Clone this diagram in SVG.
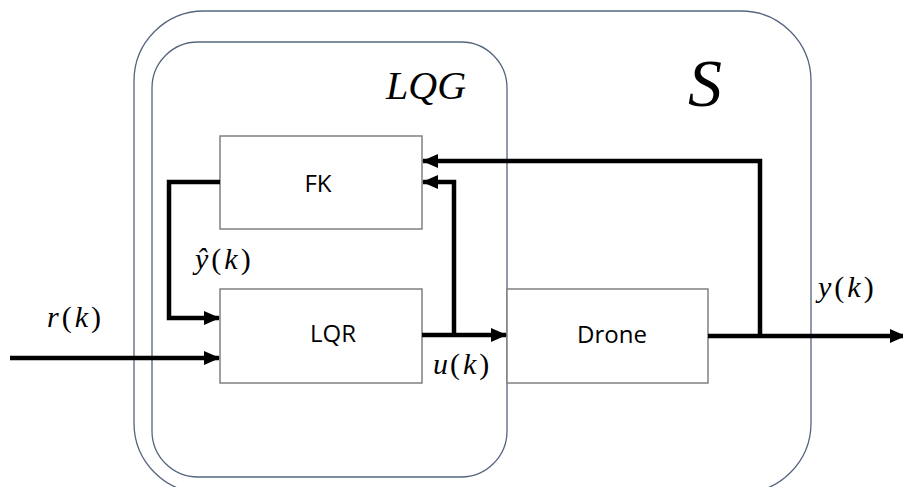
<svg xmlns="http://www.w3.org/2000/svg" width="903" height="487" viewBox="0 0 903 487">
<style>
.cont{fill:none;stroke:#56657f;stroke-width:1.3}
.box{fill:#fff;stroke:#808080;stroke-width:1.5}
.lbl{font-family:'Open Sans','Noto Sans',sans-serif;font-size:24px;fill:#000;text-anchor:middle}
.it{font-style:italic}
.wire{fill:none;stroke:#000;stroke-width:4.5;stroke-linejoin:miter}
</style>
<defs>
<marker id="ah" markerUnits="userSpaceOnUse" markerWidth="16" markerHeight="14" refX="15" refY="7" orient="auto">
<path d="M0,0 L16,7 L0,14 Z" fill="#000"/>
</marker>
</defs>
<rect fill="#fff" width="903" height="487"/>
<g id="S">
<rect class="cont" x="134" y="11" width="677" height="482" rx="70" ry="70"/>
<text x="688" y="106" font-size="68" font-family="'Liberation Serif', serif" font-style="italic">S</text>
</g>
<g id="LQG">
<rect class="cont" x="152" y="42" width="355" height="435" rx="46" ry="46"/>
<text x="386" y="99" font-size="40" font-family="'Liberation Serif', serif" font-style="italic">LQG</text>
</g>
<g id="FK">
<rect class="box" x="220" y="136" width="202" height="93"/>
<text class="lbl" x="318" y="192">FK</text>
</g>
<g id="LQR">
<rect class="box" x="220" y="289" width="202" height="94"/>
<text class="lbl" x="333" y="342">LQR</text>
</g>
<g id="Drone">
<rect class="box" x="507" y="289" width="201" height="94"/>
<text class="lbl" x="612" y="343">Drone</text>
</g>
<g id="connectors">
<path class="wire" d="M10,358 H219" marker-end="url(#ah)"/>
<path class="wire" d="M220,182 H169 V318 H219" marker-end="url(#ah)"/>
<path class="wire" d="M422,335 H506" marker-end="url(#ah)"/>
<path class="wire" d="M454,335 V182 H423" marker-end="url(#ah)"/>
<path class="wire" d="M708,336 H905" marker-end="url(#ah)"/>
<path class="wire" d="M760,336 V161 H423" marker-end="url(#ah)"/>
</g>
<g id="labels" font-family="'Liberation Serif', serif" font-size="30">
<text x="195" y="269"><tspan class="it">ŷ</tspan><tspan dx="3">(</tspan><tspan class="it" dx="3">k</tspan><tspan dx="3">)</tspan></text>
<text x="47" y="327"><tspan class="it">r</tspan><tspan dx="3">(</tspan><tspan class="it" dx="3">k</tspan><tspan dx="3">)</tspan></text>
<text x="433" y="374"><tspan class="it">u</tspan><tspan dx="2">(</tspan><tspan class="it" dx="3">k</tspan><tspan dx="3">)</tspan></text>
<text x="818" y="297"><tspan class="it">y</tspan><tspan dx="3">(</tspan><tspan class="it" dx="3">k</tspan><tspan dx="3">)</tspan></text>
</g>
</svg>
